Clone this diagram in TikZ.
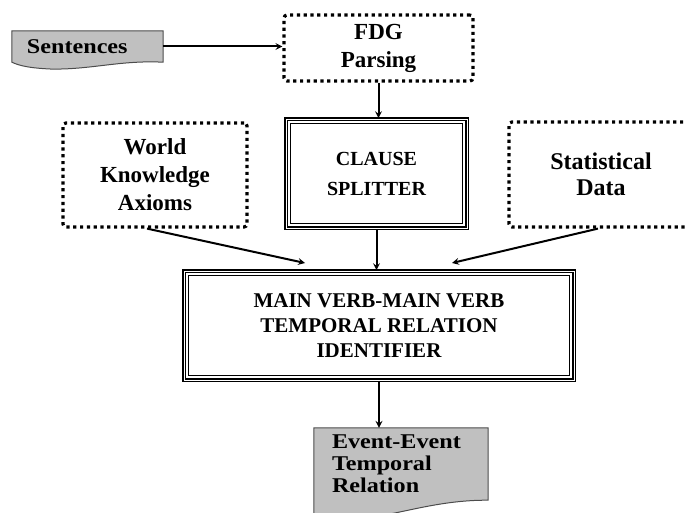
\documentclass[tikz,border=0pt]{standalone}
\usepackage{fontspec}
\setmainfont{Liberation Serif}[BoldFont={Liberation Serif Bold}]
\newfontfamily\docfont{Liberation Serif}[FakeStretch=1.15,BoldFont={Liberation Serif Bold}]
\usepackage{tikz}
\usetikzlibrary{positioning,backgrounds,calc}
\definecolor{docgray}{RGB}{192,192,192}
\tikzset{dotbox/.style={draw,line width=3.2pt,dash pattern=on 3.2pt off 3.6pt,rounded corners=3pt,align=center,inner sep=0pt,font=\fontsize{23}{28}\selectfont\bfseries},
  framebox/.style={draw,line width=1.6pt,double,double distance=0.8pt,align=center,inner sep=0pt,font=\fontsize{21}{25}\selectfont\bfseries},
  docbox/.style={align=left,inner ysep=0pt,font=\docfont\fontsize{21}{22}\selectfont\bfseries},
  docshape/.style={fill=docgray,draw=black!70,line width=1pt},
  flow/.style={->,line width=2pt}}

\begin{document}
\begin{tikzpicture}[>=stealth,x=1pt,y=-1pt]
    \useasboundingbox (0,0) rectangle (685,513);
    \clip (0,0) rectangle (685,513);

    \node[docbox,text width=121pt,inner xsep=15pt,minimum height=31pt] (sent) at (87.5,46.5) {Sentences};
    \node[dotbox,minimum width=189pt,minimum height=66pt] (fdg) at (378.5,48) {FDG\\Parsing};
    \node[dotbox,minimum width=184pt,minimum height=104pt] (wka) at (155,175) {World\\Knowledge\\Axioms};
    \node[framebox,minimum width=181pt,minimum height=109pt,font=\fontsize{20}{30}\selectfont\bfseries] (clause) at (376.5,173.5) {CLAUSE\\SPLITTER};
    \node[dotbox,minimum width=184pt,minimum height=105pt,font=\fontsize{24}{26}\selectfont\bfseries] (stat) at (601,174.5) {Statistical\\Data};
    \node[framebox,minimum width=390pt,minimum height=109pt] (main) at (379,325.5) {MAIN VERB-MAIN VERB\\TEMPORAL RELATION\\IDENTIFIER};
    \node[docbox,text width=138pt,inner xsep=18pt,minimum height=72pt] (event) at (401,464) {Event-Event\\Temporal\\Relation};

    % inner frame lines
    \draw[line width=0.8pt] ([shift={(5,5)}]clause.north west) rectangle ([shift={(-5,-5)}]clause.south east);
    \draw[line width=0.8pt] ([shift={(5,5)}]main.north west) rectangle ([shift={(-5,-5)}]main.south east);

    \begin{scope}[on background layer]
    \draw[docshape] (sent.north west) -- (sent.north east) -- (sent.south east)
        .. controls (120,60) and (90,70) .. (50,69) .. controls (30,68) and (20,66) .. (sent.south west) -- cycle;
    \draw[docshape] (event.north west) -- (event.north east) -- (event.south east)
        .. controls (450,500) and (420,508) .. (390,514) .. controls (350,521) and (330,520) .. (314,518) -- cycle;
    \end{scope}

    \coordinate (inL) at (305,263);
    \coordinate (inR) at (452,263);

    \draw[flow] (sent.east) -- (sent.east -| fdg.west);
    \draw[flow] (fdg.south) -- (fdg.south |- clause.north);
    \draw[flow] ([xshift=-8pt]wka.south) -- (inL);
    \draw[flow] (clause.south) -- (clause.south |- main.north);
    \draw[flow] ([xshift=-3pt]stat.south) -- (inR);
    \draw[flow] (main.south) -- (main.south |- event.north);
\end{tikzpicture}
\end{document}
